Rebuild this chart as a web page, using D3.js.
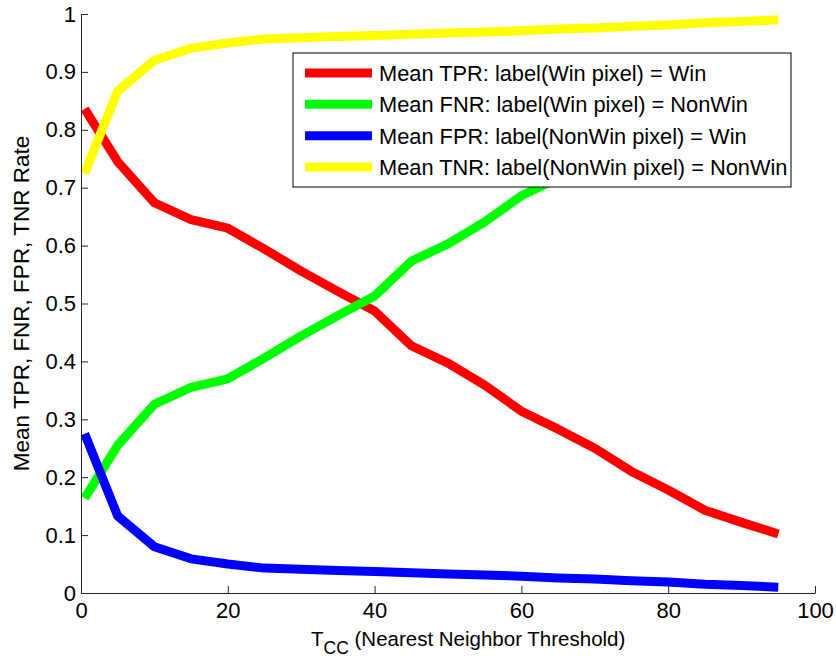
<!DOCTYPE html>
<html>
<head>
<meta charset="utf-8">
<script src="https://cdn.jsdelivr.net/npm/d3@7"></script>
<style>
  html, body { margin: 0; padding: 0; background: #fff; }
  svg { display: block; font-family: "Liberation Sans", Arial, Helvetica, sans-serif; }
</style>
</head>
<body>
<svg id="chart" width="836" height="663"></svg>
<script>
// ---- data ----
const thresholds = [0.5, 5, 10, 15, 20, 25, 30, 35, 40, 45, 50, 55, 60, 65, 70, 75, 80, 85, 90, 95];
const meanTPR = [0.836, 0.745, 0.674, 0.645, 0.630, 0.594, 0.556, 0.521, 0.487, 0.427, 0.397, 0.359, 0.314, 0.283, 0.250, 0.210, 0.178, 0.143, 0.122, 0.102];
const meanFNR = [0.164, 0.255, 0.326, 0.355, 0.370, 0.406, 0.444, 0.479, 0.513, 0.573, 0.603, 0.641, 0.686, 0.717, 0.750, 0.790, 0.822, 0.857, 0.878, 0.898];
const meanFPR = [0.275, 0.133, 0.080, 0.059, 0.050, 0.043, 0.041, 0.039, 0.037, 0.035, 0.033, 0.031, 0.029, 0.026, 0.024, 0.021, 0.019, 0.015, 0.013, 0.010];
const meanTNR = [0.725, 0.867, 0.920, 0.941, 0.950, 0.957, 0.959, 0.961, 0.963, 0.965, 0.967, 0.969, 0.971, 0.974, 0.976, 0.979, 0.981, 0.985, 0.987, 0.990];
const seriesNames = [
  "Mean TPR: label(Win pixel) = Win",
  "Mean FNR: label(Win pixel) = NonWin",
  "Mean FPR: label(NonWin pixel) = Win",
  "Mean TNR: label(NonWin pixel) = NonWin"
];
const seriesColors = ["#ff0000", "#00ff00", "#0000ff", "#ffff00"];
const xTicks = [0, 20, 40, 60, 80, 100];
const yTicks = [0, 0.1, 0.2, 0.3, 0.4, 0.5, 0.6, 0.7, 0.8, 0.9, 1];

const series = [meanTPR, meanFNR, meanFPR, meanTNR].map((vals, i) => ({
  name: seriesNames[i], color: seriesColors[i],
  points: vals.map((v, j) => ({ x: thresholds[j], y: v }))
}));

// ---- layout ----
const svg = d3.select("#chart");
const mLeft = 81, mRight = 815, mTop = 14, mBottom = 593;
const x = d3.scaleLinear().domain([0, 100]).range([mLeft, mRight]);
const y = d3.scaleLinear().domain([0, 1]).range([mBottom, mTop]);
const axisColor = "#262626";

// lines
const line = d3.line().x(d => x(d.x)).y(d => y(d.y));
svg.append("g").selectAll("path").data(series).join("path")
  .attr("d", d => line(d.points))
  .attr("fill", "none")
  .attr("stroke", d => d.color)
  .attr("stroke-width", 9)
  .attr("stroke-linejoin", "round")
  .attr("stroke-linecap", "butt");

// axes
const xAxis = d3.axisBottom(x).tickValues(xTicks).tickFormat(d3.format("d"))
  .tickSizeInner(-7).tickSizeOuter(0).tickPadding(9);
const yAxis = d3.axisLeft(y).tickValues(yTicks).tickFormat(d => d === 0 || d === 1 ? d3.format("d")(d) : d3.format(".1f")(d))
  .tickSizeInner(-7).tickSizeOuter(0).tickPadding(5);

const gx = svg.append("g").attr("transform", `translate(0,${mBottom})`).call(xAxis);
const gy = svg.append("g").attr("transform", `translate(${mLeft},0)`).call(yAxis);
[gx, gy].forEach(g => {
  g.select(".domain").attr("stroke", axisColor).attr("stroke-width", 1);
  g.selectAll(".tick line").attr("stroke", axisColor).attr("stroke-width", 1);
  g.selectAll(".tick text").attr("fill", "#000").attr("font-size", 22)
    .attr("font-family", "'Liberation Sans', Arial, sans-serif");
});

// axis labels
svg.append("text")
  .attr("transform", `translate(29,${(mTop + mBottom) / 2}) rotate(-90)`)
  .attr("text-anchor", "middle")
  .attr("font-size", 22.5)
  .attr("fill", "#000")
  .text("Mean TPR, FNR, FPR, TNR Rate");

const xl = svg.append("text")
  .attr("x", 311)
  .attr("y", 646)
  .attr("text-anchor", "start")
  .attr("font-size", 20.5)
  .attr("fill", "#000");
xl.append("tspan").text("T");
xl.append("tspan").attr("dy", 8).attr("font-size", 17.5).text("CC");
xl.append("tspan").attr("dy", -8).text(" (Nearest Neighbor Threshold)");

// legend
const lg = svg.append("g");
lg.append("rect").attr("x", 293).attr("y", 53).attr("width", 498).attr("height", 134)
  .attr("fill", "#fff").attr("stroke", "#000").attr("stroke-width", 1);
const rowY = d3.scalePoint().domain(seriesNames).range([73, 167]);
const items = lg.selectAll("g.item").data(series).join("g").attr("class", "item")
  .attr("transform", d => `translate(0,${rowY(d.name)})`);
items.append("line").attr("x1", 305).attr("x2", 372).attr("y1", 0).attr("y2", 0)
  .attr("stroke", d => d.color).attr("stroke-width", 9);
items.append("text").attr("x", 379).attr("y", 8).attr("font-size", 21.8).attr("fill", "#000")
  .text(d => d.name);
</script>
</body>
</html>
